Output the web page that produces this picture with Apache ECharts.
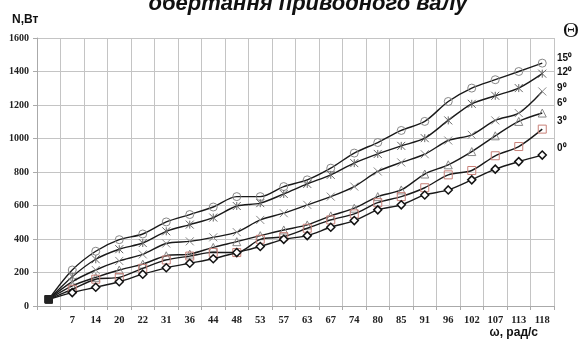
<!DOCTYPE html>
<html><head><meta charset="utf-8">
<script src="https://cdn.jsdelivr.net/npm/echarts@6/dist/echarts.min.js"></script>
<style>html,body{margin:0;padding:0;background:#fff}#c{width:581px;height:347px}</style>
</head><body><div id="c"></div>
<script>
const categories = ['', '7', '14', '20', '22', '31', '36', '44', '48', '53', '57', '63', '67', '74', '80', '85', '91', '96', '102', '107', '113', '118'];
const seriesNames = ['15⁰', '12⁰', '9⁰', '6⁰', '3⁰', '0⁰'];
const s15 = [40, 215, 327, 396, 430, 502, 546, 591, 653, 653, 713, 753, 823, 913, 976, 1048, 1102, 1221, 1301, 1351, 1400, 1450];
const s12 = [40, 175, 279, 339, 376, 446, 486, 528, 597, 614, 669, 729, 783, 853, 908, 956, 1002, 1108, 1207, 1255, 1301, 1387];
const s9  = [40, 145, 215, 269, 308, 373, 386, 410, 441, 514, 554, 604, 653, 713, 803, 857, 906, 988, 1022, 1108, 1152, 1281];
const s6  = [40, 120, 171, 215, 250, 300, 310, 350, 384, 420, 454, 484, 538, 584, 653, 693, 788, 843, 922, 1016, 1102, 1152];
const s3  = [40, 100, 160, 171, 225, 275, 298, 320, 319, 398, 414, 464, 514, 550, 617, 653, 706, 783, 809, 897, 952, 1056];
const s0  = [40, 80, 112, 145, 190, 228, 255, 282, 319, 355, 398, 420, 470, 510, 574, 604, 663, 693, 753, 817, 862, 901];
const yTicks = [0, 200, 400, 600, 800, 1000, 1200, 1400, 1600];

const chart = echarts.init(document.getElementById('c'));
const allData = [s15, s12, s9, s6, s3, s0];
const markers = [
  {symbol: 'circle', size: 8, color: '#888', fill: 'rgba(255,255,255,0)', bw: 1},
  {symbol: 'path://M0,0L10,10M10,0L0,10M5,0L5,10', size: 8, color: '#666', fill: 'rgba(255,255,255,0)', bw: 1},
  {symbol: 'path://M0,0L10,10M10,0L0,10', size: 8, color: '#888', fill: 'rgba(255,255,255,0)', bw: 1},
  {symbol: 'triangle', size: 8, color: '#888', fill: 'rgba(255,255,255,0)', bw: 1},
  {symbol: 'rect', size: 8, color: '#c88078', fill: 'rgba(255,255,255,0)', bw: 1},
  {symbol: 'diamond', size: 8, color: '#111', fill: '#fff', bw: 1.5}
];
const series = allData.map((arr, k) => ({
  name: seriesNames[k],
  type: 'line',
  smooth: 0.3,
  data: arr.map((v, i) => i === 0 ? {value: v, symbol: 'rect', symbolSize: 7, itemStyle: {color: '#222', borderColor: '#222'}} : v),
  symbol: markers[k].symbol,
  symbolSize: markers[k].size,
  lineStyle: {color: '#1a1a1a', width: 1.4},
  itemStyle: {color: markers[k].fill, borderColor: markers[k].color, borderWidth: markers[k].bw},
  z: 3 + k
}));

const legendY = [58, 72, 88, 103, 121, 148];
const graphics = [
  {type: 'text', x: 308, y: 15, style: {text: 'обертання приводного валу', font: 'italic bold 22px "Liberation Sans", Arial, sans-serif', fill: '#111', textAlign: 'center', textVerticalAlign: 'bottom'}},
  {type: 'text', x: 12, y: 20, style: {text: 'N,Вт', font: 'bold 12px "Liberation Sans", Arial, sans-serif', fill: '#111', textAlign: 'left', textVerticalAlign: 'middle'}},
  {type: 'text', x: 538, y: 333, style: {text: 'ω, рад/с', font: 'bold 12px "Liberation Sans", Arial, sans-serif', fill: '#111', textAlign: 'right', textVerticalAlign: 'middle'}},
  {type: 'text', x: 571, y: 31, style: {text: 'Θ', font: '22px "Liberation Serif", serif', fill: '#111', textAlign: 'center', textVerticalAlign: 'middle'}}
].concat(seriesNames.map((n, k) => ({
  type: 'text', x: 557, y: legendY[k],
  style: {text: n, font: 'bold 10px "Liberation Sans", Arial, sans-serif', fill: '#111', textAlign: 'left', textVerticalAlign: 'middle'}
})));

chart.setOption({
  animation: false,
  backgroundColor: '#fff',
  grid: {left: 37, right: 27, top: 38, bottom: 41, containLabel: false},
  xAxis: {
    type: 'category', data: categories, boundaryGap: true,
    axisLine: {lineStyle: {color: '#aaa'}},
    axisTick: {show: true, length: 4, lineStyle: {color: '#aaa'}},
    splitLine: {show: true, interval: 0, lineStyle: {color: '#c4c4c4', width: 1}},
    axisLabel: {interval: 0, color: '#222', fontFamily: '"Liberation Serif", serif', fontWeight: 'bold', fontSize: 10.5, margin: 9}
  },
  yAxis: {
    type: 'value', min: yTicks[0], max: yTicks[yTicks.length - 1], interval: 200,
    axisLine: {show: true, lineStyle: {color: '#aaa'}},
    axisTick: {show: true, length: 4, lineStyle: {color: '#aaa'}},
    splitLine: {show: true, lineStyle: {color: '#c4c4c4', width: 1}},
    axisLabel: {color: '#222', fontFamily: '"Liberation Serif", serif', fontWeight: 'bold', fontSize: 10, margin: 8, formatter: v => String(v)}
  },
  graphic: graphics,
  series: series
});
</script></body></html>
